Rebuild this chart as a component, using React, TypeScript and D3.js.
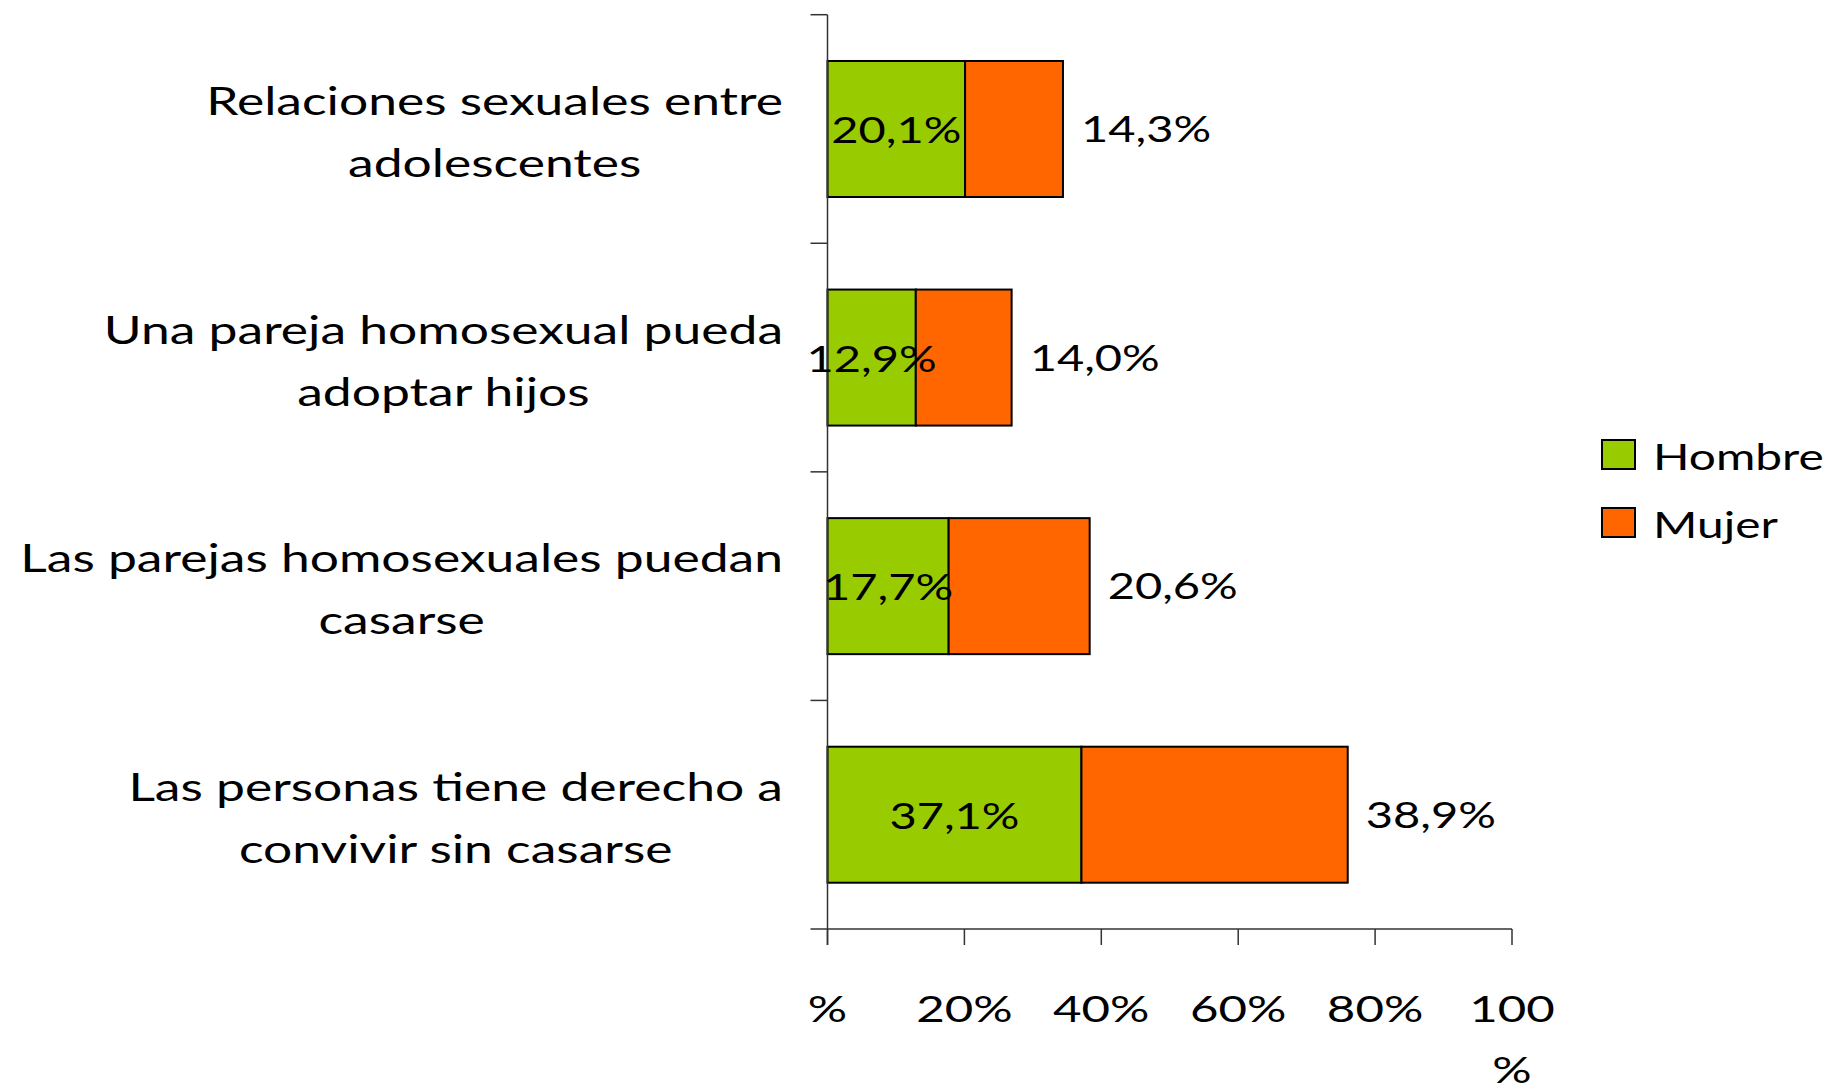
import React, { useEffect, useRef } from "react";
import * as d3 from "d3";

const categoryLines: string[][] = [
  ["Relaciones sexuales entre", "adolescentes"],
  ["Una pareja homosexual pueda", "adoptar hijos"],
  ["Las parejas homosexuales puedan", "casarse"],
  ["Las personas tiene derecho a", "convivir sin casarse"],
];
const hombre = [20.1, 12.9, 17.7, 37.1];
const mujer = [14.3, 14.0, 20.6, 38.9];
const hombreLabels = ["20,1%", "12,9%", "17,7%", "37,1%"];
const mujerLabels = ["14,3%", "14,0%", "20,6%", "38,9%"];
const tickValues = [0, 20, 40, 60, 80, 100];
const tickLabels: string[][] = [["%"], ["20%"], ["40%"], ["60%"], ["80%"], ["100", "%"]];
const seriesNames = ["Hombre", "Mujer"];
const seriesColors = ["#99CC00", "#FF6600"];

const W = 1831;
const H = 1086;
const FONT = "Lato, 'Open Sans', sans-serif";

export default function App() {
  const ref = useRef<SVGSVGElement>(null);
  useEffect(() => {
    const svg = d3.select(ref.current);
    svg.selectAll("*").remove();

    const x = d3.scaleLinear().domain([0, 100]).range([827.5, 1512]);
    const y = d3
      .scaleBand<number>()
      .domain(d3.range(categoryLines.length))
      .range([14.7, 929])
      .paddingInner(0.405)
      .paddingOuter(0.2025);
    const step = y.step();
    const top = 14.7;
    const bottom = 929;

    const g = svg.append("g");

    // bars
    categoryLines.forEach((_, i) => {
      const y0 = y(i)!;
      const bh = y.bandwidth();
      const h = hombre[i];
      const m = mujer[i];
      g.append("rect")
        .attr("x", x(0))
        .attr("y", y0)
        .attr("width", x(h) - x(0))
        .attr("height", bh)
        .attr("fill", seriesColors[0])
        .attr("stroke", "#000")
        .attr("stroke-width", 2);
      g.append("rect")
        .attr("x", x(h))
        .attr("y", y0)
        .attr("width", x(h + m) - x(h))
        .attr("height", bh)
        .attr("fill", seriesColors[1])
        .attr("stroke", "#000")
        .attr("stroke-width", 2);
    });

    // axes
    const axisColor = "#333";
    g.append("line")
      .attr("x1", x(0)).attr("x2", x(0))
      .attr("y1", top).attr("y2", bottom + 16)
      .attr("stroke", axisColor).attr("stroke-width", 1.5);
    g.append("line")
      .attr("x1", x(0) - 17).attr("x2", x(100))
      .attr("y1", bottom).attr("y2", bottom)
      .attr("stroke", axisColor).attr("stroke-width", 1.5);
    for (let k = 0; k < categoryLines.length; k++) {
      const yy = top + k * step;
      g.append("line")
        .attr("x1", x(0) - 17).attr("x2", x(0))
        .attr("y1", yy).attr("y2", yy)
        .attr("stroke", axisColor).attr("stroke-width", 1.5);
    }
    tickValues.forEach((v) => {
      g.append("line")
        .attr("x1", x(v)).attr("x2", x(v))
        .attr("y1", bottom).attr("y2", bottom + 16)
        .attr("stroke", axisColor).attr("stroke-width", 1.5);
    });

    const addText = (
      txt: string,
      tx: number,
      ty: number,
      size: number,
      anchor: string,
      sx: number
    ) =>
      g
        .append("text")
        .attr("transform", `translate(${tx},${ty}) scale(${sx},1)`)
        .attr("font-family", FONT)
        .attr("font-size", size)
        .attr("text-anchor", anchor)
        .attr("fill", "#000")
        .text(txt);

    // tick labels
    tickValues.forEach((v, i) => {
      tickLabels[i].forEach((line, j) => {
        addText(line, x(v), 1022 + j * 61, 37, "middle", 1.33);
      });
    });

    // category labels
    const CSX = 1.34;
    categoryLines.forEach((lines, i) => {
      const c = y(i)! + y.bandwidth() / 2;
      const nodes = lines.map((line, j) => addText(line, 0, c - 14 + j * 62, 38.5, "middle", CSX));
      const maxW = d3.max(nodes, (n) => (n.node() as SVGTextElement).getComputedTextLength())! * CSX;
      const cx = 783 - maxW / 2;
      nodes.forEach((n, j) =>
        n.attr("transform", `translate(${cx},${c - 14 + j * 62}) scale(${CSX},1)`)
      );
    });

    // value labels
    categoryLines.forEach((_, i) => {
      const c = y(i)! + y.bandwidth() / 2;
      addText(hombreLabels[i], (x(0) + x(hombre[i])) / 2, c + 14, 37, "middle", 1.27);
      addText(mujerLabels[i], x(hombre[i] + mujer[i]) + 18, c + 13, 37, "start", 1.27);
    });

    // legend
    seriesNames.forEach((name, i) => {
      const ly = 440 + i * 68;
      g.append("rect")
        .attr("x", 1602).attr("y", ly)
        .attr("width", 33).attr("height", 29)
        .attr("fill", seriesColors[i])
        .attr("stroke", "#000").attr("stroke-width", 2);
      addText(name, 1653, ly + 30, 36, "start", 1.33);
    });
  }, []);

  return (
    <svg
      ref={ref}
      width={W}
      height={H}
      style={{ position: "absolute", left: 0, top: 0, background: "#fff" }}
    />
  );
}
